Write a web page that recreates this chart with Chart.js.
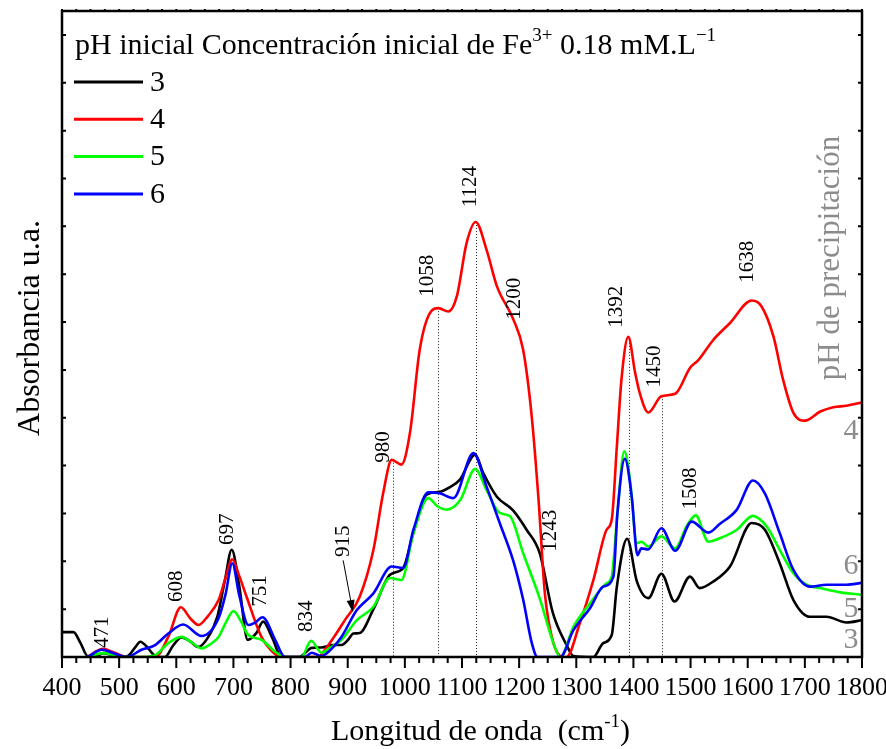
<!DOCTYPE html>
<html>
<head>
<meta charset="utf-8">
<script src="https://cdn.jsdelivr.net/npm/chart.js@4/dist/chart.umd.min.js"></script>
<style>
  html, body { margin: 0; padding: 0; background: #fff; }
  #wrap { width: 886px; height: 749px; }
</style>
</head>
<body>
<div id="wrap"><canvas id="chart" width="886" height="749"></canvas></div>
<script>
// Spectra (wavenumber cm-1 / absorbance, arbitrary units)
const ph3Wn  = [400, 420, 432, 445, 460, 472, 485, 500, 515, 528, 537, 548, 560, 568, 580, 595, 609, 625, 638, 655, 672, 685, 697, 710, 725, 740, 752, 768, 784, 800, 815, 837, 854, 875, 889, 900, 910, 921, 945, 974, 997, 1015, 1038, 1060, 1079, 1096, 1123, 1137, 1161, 1189, 1213, 1236, 1259, 1283, 1295, 1330, 1347, 1362, 1371, 1389, 1406, 1426, 1449, 1472, 1499, 1516, 1540, 1569, 1607, 1630, 1656, 1680, 1709, 1738, 1773, 1800];
const ph3Abs = [0.52, 0.52, 0.30, 0.02, 0.02, 0.08, 0.05, 0.0, 0.02, 0.2, 0.32, 0.22, 0.05, 0.0, 0.0, 0.25, 0.41, 0.32, 0.21, 0.4, 0.85, 1.6, 2.24, 1.5, 0.36, 0.5, 0.74, 0.4, 0.0, 0.0, 0.0, 0.19, 0.2, 0.25, 0.25, 0.35, 0.49, 0.5, 1.0, 1.72, 1.86, 2.6, 3.39, 3.45, 3.55, 3.7, 4.23, 3.85, 3.35, 3.07, 2.66, 2.17, 0.92, 0.25, 0.02, 0.0, 0.29, 0.46, 1.47, 2.47, 1.58, 1.23, 1.74, 1.16, 1.68, 1.44, 1.58, 1.89, 2.8, 2.66, 1.96, 1.19, 0.84, 0.84, 0.72, 0.77];

const ph4Wn  = [445, 460, 472, 490, 515, 540, 563, 586, 608, 625, 639, 655, 674, 685, 698, 710, 723, 749, 765, 779, 800, 848, 860, 875, 895, 921, 945, 962, 977, 994, 1009, 1026, 1044, 1059, 1076, 1091, 1108, 1124, 1143, 1161, 1190, 1207, 1222, 1234, 1245, 1260, 1277, 1283, 1306, 1330, 1353, 1362, 1371, 1379, 1391, 1403, 1411, 1426, 1449, 1473, 1499, 1514, 1540, 1569, 1607, 1624, 1645, 1662, 1680, 1700, 1727, 1750, 1773, 1800];
const ph4Abs = [0.0, 0.12, 0.17, 0.1, 0.0, 0.0, 0.0, 0.42, 1.04, 0.8, 0.67, 0.85, 1.19, 1.6, 2.04, 1.7, 1.26, 0.42, 0.15, 0.02, 0.0, 0.0, 0.15, 0.4, 0.77, 1.26, 2.24, 3.42, 4.12, 4.02, 4.69, 6.42, 7.19, 7.29, 7.22, 7.54, 8.65, 9.09, 8.51, 7.75, 7.05, 6.42, 5.03, 3.28, 1.33, 0.29, 0.0, 0.0, 0.7, 1.61, 2.66, 2.87, 4.4, 5.79, 6.69, 5.94, 5.52, 5.11, 5.45, 5.5, 6.04, 6.21, 6.63, 6.98, 7.45, 7.33, 6.7, 5.79, 5.1, 4.94, 5.13, 5.22, 5.25, 5.32];

const ph5Wn  = [445, 472, 495, 515, 540, 563, 586, 609, 625, 644, 660, 674, 688, 700, 713, 726, 749, 773, 790, 819, 836, 854, 870, 889, 916, 945, 974, 994, 1015, 1041, 1057, 1073, 1097, 1123, 1143, 1166, 1184, 1207, 1237, 1260, 1272, 1295, 1324, 1353, 1362, 1372, 1384, 1394, 1406, 1414, 1426, 1449, 1473, 1493, 1509, 1531, 1551, 1581, 1609, 1633, 1656, 1680, 1703, 1727, 1762, 1800];
const ph5Abs = [0.0, 0.08, 0.03, 0.0, 0.0, 0.04, 0.29, 0.42, 0.32, 0.18, 0.27, 0.42, 0.75, 0.96, 0.75, 0.46, 0.36, 0.11, 0.0, 0.0, 0.34, 0.09, 0.2, 0.36, 0.77, 1.05, 1.65, 1.61, 2.59, 3.32, 3.15, 3.08, 3.28, 3.93, 3.49, 3.01, 2.94, 2.17, 1.19, 0.29, 0.0, 0.63, 1.12, 1.54, 1.68, 3.0, 4.3, 3.7, 2.38, 2.41, 2.31, 2.52, 2.27, 2.73, 2.96, 2.41, 2.48, 2.66, 2.95, 2.73, 2.24, 1.75, 1.51, 1.44, 1.35, 1.30];

const ph6Wn  = [445, 470, 490, 513, 539, 563, 586, 612, 644, 674, 686, 698, 710, 726, 738, 751, 773, 790, 825, 837, 854, 870, 889, 916, 945, 977, 997, 1015, 1041, 1061, 1085, 1120, 1143, 1166, 1190, 1207, 1222, 1232, 1272, 1295, 1324, 1347, 1365, 1372, 1385, 1397, 1407, 1414, 1426, 1449, 1473, 1502, 1531, 1551, 1581, 1609, 1630, 1656, 1680, 1709, 1738, 1773, 1800];
const ph6Abs = [0.0, 0.15, 0.08, 0.0, 0.15, 0.25, 0.49, 0.68, 0.44, 0.81, 1.3, 1.96, 1.3, 0.67, 0.72, 0.83, 0.36, 0.0, 0.0, 0.09, 0.02, 0.15, 0.42, 0.98, 1.33, 1.89, 1.86, 2.66, 3.44, 3.42, 3.32, 4.26, 3.56, 2.8, 2.0, 1.2, 0.3, 0.0, 0.0, 0.56, 1.02, 1.47, 1.68, 3.01, 4.14, 3.35, 2.13, 2.27, 2.25, 2.69, 2.22, 2.83, 2.6, 2.78, 3.08, 3.69, 3.42, 2.59, 1.82, 1.47, 1.51, 1.51, 1.55];

const seriesNames  = ['3', '4', '5', '6'];
const seriesColors = ['#000000', '#ff0000', '#00ff00', '#0000ff'];

// Peak annotations: wavenumber text, anchor wavenumber, absorbance where the label starts
const peakText = ['471', '608', '697', '751', '834', '915', '980', '1058', '1124', '1200', '1243', '1392', '1450', '1508', '1638'];
const peakWn   = [470, 600, 689, 748, 828, 892, 962, 1039, 1114, 1191, 1254, 1371, 1436, 1499, 1599];
const peakAbs  = [0.19, 1.15, 2.34, 1.05, 0.52, 2.09, 4.06, 7.53, 9.4, 7.05, 2.2, 6.88, 5.63, 3.08, 7.82];

// Dotted drop lines from the peak down to the baseline
const dropWn  = [980, 1058, 1124, 1392, 1450];
const dropAbs = [4.06, 7.29, 9.09, 6.69, 5.45];

// Arrow for the 915 shoulder
const arrowFrom = [892, 2.02];
const arrowTo   = [909, 0.94];

// pH de precipitación labels on the right edge
const rightText = ['4', '6', '5', '3'];
const rightAbs  = [4.73, 1.9, 1.0, 0.36];

const X_MIN = 400, X_MAX = 1800, Y_MIN = 0, Y_MAX = 13.5;
const SERIF = "'Liberation Serif', 'Times New Roman', serif";

function toPoints(xs, ys) {
  return xs.map((x, i) => ({ x: x, y: ys[i] }));
}

function rotText(ctx, text, x, y, font, color, align) {
  ctx.save();
  ctx.translate(x, y);
  ctx.rotate(-Math.PI / 2);
  ctx.font = font;
  ctx.fillStyle = color;
  ctx.textAlign = align || 'left';
  ctx.textBaseline = 'middle';
  ctx.fillText(text, 0, 0);
  ctx.restore();
}

// draws text pieces in a row; parts = [[text, isSuperscript], ...]
function richText(ctx, parts, x, y, size) {
  let cx = x;
  ctx.textAlign = 'left';
  ctx.textBaseline = 'alphabetic';
  ctx.fillStyle = '#000';
  parts.forEach(p => {
    if (p[1]) {
      ctx.font = Math.round(size * 0.62) + 'px ' + SERIF;
      ctx.fillText(p[0], cx, y - size * 0.42);
    } else {
      ctx.font = size + 'px ' + SERIF;
      ctx.fillText(p[0], cx, y);
    }
    cx += ctx.measureText(p[0]).width;
  });
  return cx;
}

const decor = {
  id: 'decor',
  beforeDatasetsDraw(chart) {
    const ctx = chart.ctx, xs = chart.scales.x, ys = chart.scales.y;
    ctx.save();
    ctx.strokeStyle = '#222';
    ctx.lineWidth = 1;
    ctx.setLineDash([1, 2]);
    dropWn.forEach((wn, i) => {
      const px = Math.round(xs.getPixelForValue(wn)) + 0.5;
      ctx.beginPath();
      ctx.moveTo(px, ys.getPixelForValue(dropAbs[i]));
      ctx.lineTo(px, ys.getPixelForValue(0));
      ctx.stroke();
    });
    ctx.restore();
  },
  afterDraw(chart) {
    const ctx = chart.ctx, xs = chart.scales.x, ys = chart.scales.y;
    const a = chart.chartArea;
    ctx.save();

    // frame
    ctx.strokeStyle = '#000';
    ctx.lineWidth = 2.5;
    ctx.strokeRect(a.left, a.top, a.right - a.left, a.bottom - a.top);

    // x ticks: bottom outward (major + minor), top small
    ctx.lineWidth = 2;
    for (let v = X_MIN; v <= X_MAX; v += 25) {
      const px = xs.getPixelForValue(v);
      const major = v % 100 === 0;
      ctx.beginPath();
      ctx.moveTo(px, a.bottom);
      ctx.lineTo(px, a.bottom + (major ? 11 : 6));
      ctx.moveTo(px, a.top);
      ctx.lineTo(px, a.top - 2);
      ctx.stroke();
    }
    // y ticks: inward on both sides
    for (let v = 1; v < Y_MAX; v += 1) {
      const py = ys.getPixelForValue(v);
      ctx.beginPath();
      ctx.moveTo(a.left, py);
      ctx.lineTo(a.left + 4, py);
      ctx.moveTo(a.right, py);
      ctx.lineTo(a.right - 4, py);
      ctx.stroke();
    }

    // x tick labels
    ctx.fillStyle = '#000';
    ctx.font = '26px ' + SERIF;
    ctx.textAlign = 'center';
    ctx.textBaseline = 'middle';
    for (let v = X_MIN; v <= X_MAX; v += 100) {
      ctx.fillText(String(v), xs.getPixelForValue(v), a.bottom + 31);
    }

    // axis titles
    rotText(ctx, 'Absorbancia u.a.', 31, (a.top + a.bottom) / 2 - 6, '32px ' + SERIF, '#000', 'center');
    richText(ctx, [['Longitud de onda  (cm', false], ['-1', true], [')', false]], 331, 740, 30);

    // peak labels
    peakText.forEach((t, i) => {
      rotText(ctx, t, xs.getPixelForValue(peakWn[i]), ys.getPixelForValue(peakAbs[i]), '21px ' + SERIF, '#000', 'left');
    });

    // 915 arrow
    const ax0 = xs.getPixelForValue(arrowFrom[0]), ay0 = ys.getPixelForValue(arrowFrom[1]);
    const ax1 = xs.getPixelForValue(arrowTo[0]), ay1 = ys.getPixelForValue(arrowTo[1]);
    const ang = Math.atan2(ay1 - ay0, ax1 - ax0);
    ctx.lineWidth = 1;
    ctx.beginPath();
    ctx.moveTo(ax0, ay0);
    ctx.lineTo(ax1 - 9 * Math.cos(ang), ay1 - 9 * Math.sin(ang));
    ctx.stroke();
    ctx.beginPath();
    ctx.moveTo(ax1, ay1);
    ctx.lineTo(ax1 - 12 * Math.cos(ang) + 4 * Math.sin(ang), ay1 - 12 * Math.sin(ang) - 4 * Math.cos(ang));
    ctx.lineTo(ax1 - 12 * Math.cos(ang) - 4 * Math.sin(ang), ay1 - 12 * Math.sin(ang) + 4 * Math.cos(ang));
    ctx.closePath();
    ctx.fill();

    // right side gray labels
    rotText(ctx, 'pH de precipitación', 831, 258, '31px ' + SERIF, '#8c8c8c', 'center');
    ctx.fillStyle = '#8c8c8c';
    ctx.font = '30px ' + SERIF;
    ctx.textAlign = 'center';
    ctx.textBaseline = 'middle';
    rightText.forEach((t, i) => {
      ctx.fillText(t, 851, ys.getPixelForValue(rightAbs[i]));
    });

    // legend
    richText(ctx, [['pH inicial Concentración inicial de Fe', false], ['3+', true], [' 0.18 mM.L', false], ['\u22121', true]], 75, 54, 30);
    chart.data.datasets.forEach((ds, i) => {
      const ly = 82 + i * 37.3;
      ctx.strokeStyle = ds.borderColor;
      ctx.lineWidth = 3;
      ctx.beginPath();
      ctx.moveTo(74, ly);
      ctx.lineTo(143, ly);
      ctx.stroke();
      ctx.fillStyle = '#000';
      ctx.font = '30px ' + SERIF;
      ctx.textAlign = 'left';
      ctx.textBaseline = 'middle';
      ctx.fillText(ds.label, 150, ly + 1);
    });

    ctx.restore();
  }
};

const allWn  = [ph3Wn, ph4Wn, ph5Wn, ph6Wn];
const allAbs = [ph3Abs, ph4Abs, ph5Abs, ph6Abs];

const datasets = seriesNames.map((name, i) => ({
  label: name,
  data: toPoints(allWn[i], allAbs[i]),
  borderColor: seriesColors[i],
  backgroundColor: seriesColors[i],
  borderWidth: 2.6,
  pointRadius: 0,
  cubicInterpolationMode: 'monotone',
  fill: false,
  order: 3 - i
}));

new Chart(document.getElementById('chart'), {
  type: 'line',
  data: { datasets: datasets },
  options: {
    responsive: false,
    animation: false,
    devicePixelRatio: 1,
    layout: { padding: { top: 11, right: 24, left: 0, bottom: 0 } },
    plugins: { legend: { display: false }, tooltip: { enabled: false } },
    scales: {
      x: {
        type: 'linear', min: X_MIN, max: X_MAX,
        ticks: { display: false },
        grid: { display: false },
        border: { display: false },
        afterFit: s => { s.height = 92; }
      },
      y: {
        type: 'linear', min: Y_MIN, max: Y_MAX,
        ticks: { display: false },
        grid: { display: false },
        border: { display: false },
        afterFit: s => { s.width = 62; }
      }
    }
  },
  plugins: [decor]
});
</script>
</body>
</html>
